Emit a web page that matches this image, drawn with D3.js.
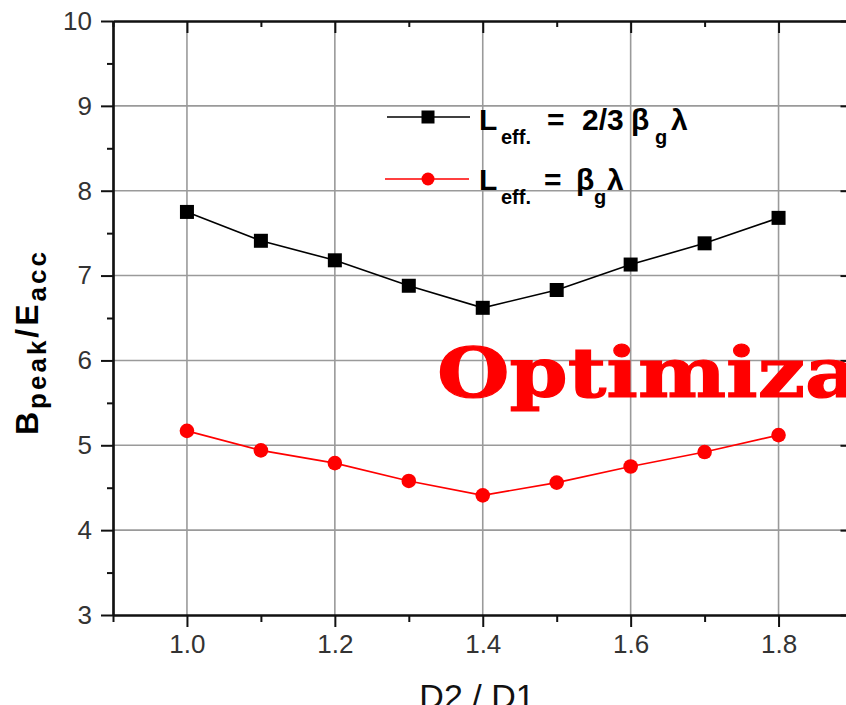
<!DOCTYPE html>
<html>
<head>
<meta charset="utf-8">
<script src="https://cdn.jsdelivr.net/npm/d3@7"></script>
<style>
  html, body { margin: 0; padding: 0; background: #fff; overflow: hidden; }
  text { font-family: "Liberation Sans", Arial, sans-serif; }
</style>
</head>
<body>
<svg id="chart" width="846" height="705"></svg>
<script>
// D2/D1 ratio sampled for the cavity geometry
const ratios = [1.0, 1.1, 1.2, 1.3, 1.4, 1.5, 1.6, 1.7, 1.8];
// Bpeak/Eacc for Leff = 2/3 βg λ
const bpeakShort = [7.75, 7.41, 7.18, 6.88, 6.62, 6.83, 7.13, 7.38, 7.68];
// Bpeak/Eacc for Leff = βg λ
const bpeakLong = [5.17, 4.94, 4.79, 4.58, 4.41, 4.56, 4.75, 4.92, 5.12];

const xMajorTicks = [1.0, 1.2, 1.4, 1.6, 1.8];
const xMinorTicks = [0.9, 1.1, 1.3, 1.5, 1.7, 1.9];
const yMajorTicks = [3, 4, 5, 6, 7, 8, 9, 10];
const yMinorTicks = [3.5, 4.5, 5.5, 6.5, 7.5, 8.5, 9.5];
const xTitle = "D2 / D1";
const overlayText = "Optimization";

const svg = d3.select("#chart");
const plot = { left: 113, right: 852.5, top: 21, bottom: 615 };

const x = d3.scaleLinear().domain([0.9, 1.9]).range([plot.left, plot.right]);
const y = d3.scaleLinear().domain([3, 10]).range([plot.bottom, plot.top]);

// grid lines at the major ticks
const grid = svg.append("g").attr("stroke", "#9a9a9a").attr("stroke-width", 1.6);
grid.selectAll("line.gx").data(xMajorTicks).join("line")
  .attr("x1", d => x(d)).attr("x2", d => x(d))
  .attr("y1", plot.top).attr("y2", plot.bottom);
grid.selectAll("line.gy").data(yMajorTicks.filter(d => d > 3 && d < 10)).join("line")
  .attr("x1", plot.left).attr("x2", plot.right)
  .attr("y1", d => y(d)).attr("y2", d => y(d));

// axes: outward ticks on bottom/left, inward mirror ticks on top/right
function styleAxis(g) {
  g.selectAll("path.domain").attr("stroke", "#111").attr("stroke-width", 2.2);
  g.selectAll(".tick line").attr("stroke", "#111").attr("stroke-width", 2);
  g.selectAll(".tick text")
    .attr("fill", "#333")
    .style("font-size", "26px")
    .style("font-family", "'Liberation Sans', Arial, sans-serif");
}

const fmtX = d3.format(".1f");
svg.append("g").attr("transform", `translate(0,${plot.bottom})`)
  .call(d3.axisBottom(x).tickValues(xMinorTicks).tickSize(7).tickFormat("").tickSizeOuter(0))
  .call(styleAxis);
svg.append("g").attr("transform", `translate(0,${plot.bottom})`)
  .call(d3.axisBottom(x).tickValues(xMajorTicks).tickSize(12).tickPadding(8).tickFormat(fmtX).tickSizeOuter(0))
  .call(styleAxis);

svg.append("g").attr("transform", `translate(${plot.left},0)`)
  .call(d3.axisLeft(y).tickValues(yMinorTicks).tickSize(6).tickFormat("").tickSizeOuter(0))
  .call(styleAxis);
svg.append("g").attr("transform", `translate(${plot.left},0)`)
  .call(d3.axisLeft(y).tickValues(yMajorTicks).tickSize(12).tickPadding(9).tickFormat(d3.format("d")).tickSizeOuter(0))
  .call(styleAxis);

svg.append("g").attr("transform", `translate(0,${plot.top})`)
  .call(d3.axisTop(x).tickValues(xMinorTicks).tickSize(-6).tickFormat("").tickSizeOuter(0))
  .call(styleAxis);
svg.append("g").attr("transform", `translate(0,${plot.top})`)
  .call(d3.axisTop(x).tickValues(xMajorTicks).tickSize(-12).tickFormat("").tickSizeOuter(0))
  .call(styleAxis);

svg.append("g").attr("transform", `translate(${plot.right},0)`)
  .call(d3.axisRight(y).tickValues(yMinorTicks).tickSize(-6).tickFormat("").tickSizeOuter(0))
  .call(styleAxis);
svg.append("g").attr("transform", `translate(${plot.right},0)`)
  .call(d3.axisRight(y).tickValues(yMajorTicks).tickSize(-12).tickFormat("").tickSizeOuter(0))
  .call(styleAxis);

// data series
const line = d3.line().x(d => x(d[0])).y(d => y(d[1]));
const shortPts = ratios.map((r, i) => [r, bpeakShort[i]]);
const longPts = ratios.map((r, i) => [r, bpeakLong[i]]);

svg.append("path").datum(shortPts).attr("d", line)
  .attr("fill", "none").attr("stroke", "#000").attr("stroke-width", 1.6);
svg.append("g").selectAll("rect").data(shortPts).join("rect")
  .attr("x", d => x(d[0]) - 7).attr("y", d => y(d[1]) - 7)
  .attr("width", 14).attr("height", 14).attr("fill", "#000");

svg.append("path").datum(longPts).attr("d", line)
  .attr("fill", "none").attr("stroke", "#ff0000").attr("stroke-width", 1.6);
svg.append("g").selectAll("circle").data(longPts).join("circle")
  .attr("cx", d => x(d[0])).attr("cy", d => y(d[1])).attr("r", 7.3)
  .attr("fill", "#ff0000");

// legend
const lg = svg.append("g");
lg.append("line").attr("x1", 387).attr("x2", 470).attr("y1", 117).attr("y2", 117)
  .attr("stroke", "#000").attr("stroke-width", 1.6);
lg.append("rect").attr("x", 428 - 6.5).attr("y", 117 - 6.5).attr("width", 13).attr("height", 13).attr("fill", "#000");
lg.append("line").attr("x1", 385).attr("x2", 469).attr("y1", 179).attr("y2", 179)
  .attr("stroke", "#ff0000").attr("stroke-width", 1.6);
lg.append("circle").attr("cx", 428).attr("cy", 179).attr("r", 6.5).attr("fill", "#ff0000");

function legendLabel(baseY, parts) {
  const t = lg.append("text").attr("y", baseY).attr("font-weight", "bold").attr("fill", "#000");
  parts.forEach(p => {
    t.append("tspan").attr("x", p.x).attr("y", baseY + (p.sub ? 14 : 0))
      .style("font-size", p.sub ? "20px" : "30px").text(p.t);
  });
}
legendLabel(130, [
  { t: "L", x: 479 }, { t: "eff.", x: 501, sub: true }, { t: "=", x: 547 },
  { t: "2/3", x: 582 }, { t: "β", x: 631 }, { t: "g", x: 655, sub: true }, { t: "λ", x: 671 }
]);
legendLabel(190, [
  { t: "L", x: 479 }, { t: "eff.", x: 501, sub: true }, { t: "=", x: 544 },
  { t: "β", x: 576 }, { t: "g", x: 594, sub: true }, { t: "λ", x: 607 }
]);

// axis titles
svg.append("text").attr("x", 477).attr("y", 708).attr("text-anchor", "middle")
  .style("font-size", "34px").attr("fill", "#111").text(xTitle);

const yt = svg.append("text").attr("transform", "translate(38,435) rotate(-90)")
  .attr("font-weight", "bold").attr("fill", "#000").style("letter-spacing", "3px");
yt.append("tspan").style("font-size", "32px").text("B");
yt.append("tspan").attr("dy", 8).style("font-size", "26px").text("peak");
yt.append("tspan").attr("dy", -8).style("font-size", "32px").text("/E");
yt.append("tspan").attr("dy", 8).style("font-size", "26px").text("acc");

// red overlay heading
svg.append("text").attr("transform", "translate(437,397) scale(1.19,1)")
  .style("font-family", "'DejaVu Serif', serif").style("font-weight", "bold")
  .style("font-size", "70px").attr("fill", "#ff0000")
  .attr("stroke", "#ff0000").attr("stroke-width", 1.2)
  .text(overlayText);
</script>
</body>
</html>
